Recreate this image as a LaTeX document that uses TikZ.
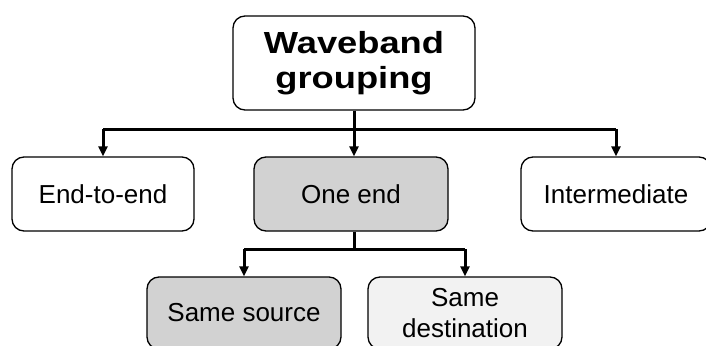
\documentclass[tikz,border=0pt]{standalone}
\usepackage{fontspec}
\setmainfont{Liberation Sans}
\newfontfamily\wbfont[FakeStretch=1.19]{Liberation Sans Bold}
\usetikzlibrary{arrows.meta}
\tikzset{
  box/.style={draw=black, line width=1.3pt, rounded corners=12pt, align=center, inner sep=0pt},
  lvl/.style={box, minimum height=74pt, font=\fontsize{26}{31}\selectfont},
  low/.style={box, minimum height=72pt, font=\fontsize{26}{31}\selectfont},
  grayfill/.style={fill=gray!35},
  lightfill/.style={fill=black!5},
  conn/.style={line width=3pt},
  arr/.style={line width=3pt, -{Triangle[length=10pt,width=9pt]}}
}
\begin{document}
\begin{tikzpicture}[x=1pt,y=-1pt]
\clip (0,0) rectangle (706,345);
\fill[white] (0,0) rectangle (706,345);
\node[box, minimum width=242pt, minimum height=94pt, font=\wbfont\fontsize{30.5}{35}\selectfont, fill=white] (top) at (354,63) {Waveband\\grouping};
\node[lvl, minimum width=182pt, fill=white] (e2e) at (103,194) {End-to-end};
\node[lvl, minimum width=194pt, grayfill] (one) at (351,194) {One end};
\node[lvl, minimum width=190pt, fill=white] (mid) at (616,194) {Intermediate};
\node[low, minimum width=194pt, grayfill] (src) at (244,313) {Same source};
\node[low, minimum width=194pt, lightfill] (dst) at (465,313) {Same\\destination};
\coordinate (b1) at (354,129);
\coordinate (b2) at (354,249);
\draw[conn] (top.south) -- (b1);
\draw[conn] (e2e.north |- b1) -- (mid.north |- b1);
\draw[arr] (e2e.north |- b1) -- (e2e.north);
\draw[arr] (b1) -- (one.north -| b1);
\draw[arr] (mid.north |- b1) -- (mid.north);
\draw[conn] (one.south -| b2) -- (b2);
\draw[conn] (src.north |- b2) -- (dst.north |- b2);
\draw[arr] (src.north |- b2) -- (src.north);
\draw[arr] (dst.north |- b2) -- (dst.north);
\end{tikzpicture}
\end{document}
